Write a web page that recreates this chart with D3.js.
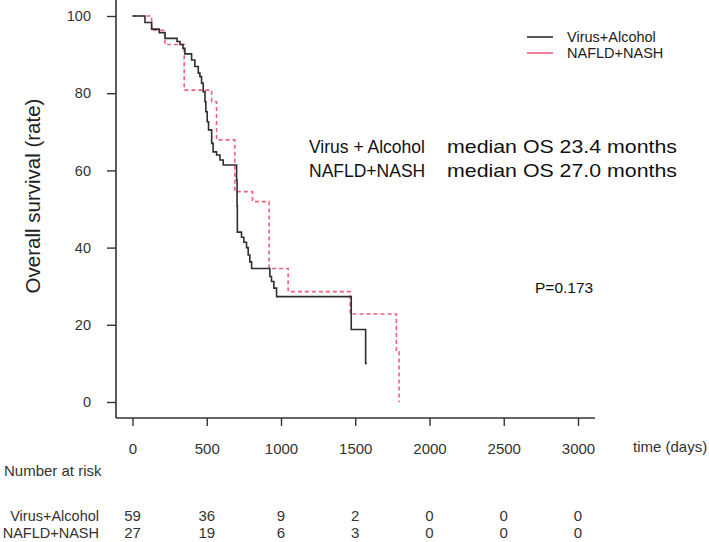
<!DOCTYPE html>
<html><head><meta charset="utf-8">
<script src="https://cdn.jsdelivr.net/npm/d3@7"></script>
<style>body{margin:0;background:#fff}svg{display:block;font-family:"Liberation Sans",Arial,sans-serif}</style>
</head><body><svg id="c" width="709" height="542"></svg>
<script>
// Kaplan-Meier step data (day, survival % after the event)
const vaDays = [0,84,129,180,219,300,320,340,353,398,420,443,454,465,476,488,494,503,512,533,543,566,589,611,701,704,706,734,750,768,779,790,802,925,936,952,970,1473,1570,1578];
const vaSurv = [100,98.3,96.6,95.7,94.2,93.4,92.6,91.6,90.2,88.6,86.9,85.2,84.3,82.6,80.4,77.8,75.2,72.6,70.5,67.0,64.8,64.0,62.7,61.4,57.5,50.8,44.0,42.7,41.4,40.0,38.1,36.3,34.6,32.5,31.2,29.5,27.3,18.8,10.0,10.0];
const nnDays = [0,129,218,348,533,566,689,808,920,1048,1466,1777,1795];
const nnSurv = [100,96.3,92.6,80.8,77.8,67.9,54.5,51.9,34.6,28.6,22.8,13.0,0];
const seriesNames = ["Virus+Alcohol","NAFLD+NASH"];
const xTicks = [0,500,1000,1500,2000,2500,3000];
const yTicks = [0,20,40,60,80,100];
const riskVA = [59,36,9,2,0,0,0];
const riskNN = [27,19,6,3,0,0,0];
const medianLines = [["Virus + Alcohol","median OS 23.4 months"],["NAFLD+NASH","median OS 27.0 months"]];
const pText = "P=0.173";

const svg = d3.select("#c");
const x = d3.scaleLinear().domain([0,3000]).range([132.5,578]);
const y = d3.scaleLinear().domain([0,100]).range([402,16]);
const axisCol = "#333";

// axes lines (L-shaped frame)
svg.append("line").attr("x1",116).attr("x2",116).attr("y1",0).attr("y2",418).attr("stroke",axisCol).attr("stroke-width",1.6);
svg.append("line").attr("x1",116).attr("x2",595).attr("y1",418).attr("y2",418).attr("stroke",axisCol).attr("stroke-width",1.6);

// y axis
const yAxis = svg.append("g").attr("transform","translate(116,0)")
  .call(d3.axisLeft(y).tickValues(yTicks).tickFormat(d3.format("d")).tickSize(9).tickPadding(16));
yAxis.select(".domain").remove();
yAxis.selectAll("line").attr("stroke",axisCol).attr("stroke-width",1.4);
yAxis.selectAll("text").attr("fill","#333").style("font-size","14.5px");

// x axis
const xAxis = svg.append("g").attr("transform","translate(0,418)")
  .call(d3.axisBottom(x).tickValues(xTicks).tickFormat(d3.format("d")).tickSize(8).tickPadding(17));
xAxis.select(".domain").remove();
xAxis.selectAll("line").attr("stroke",axisCol).attr("stroke-width",1.4);
xAxis.selectAll("text").attr("fill","#333").style("font-size","15px");

svg.append("text").attr("x",633).attr("y",452).attr("fill","#333").style("font-size","15px").text("time (days)");

// y title
svg.append("text").attr("transform","translate(40,196) rotate(-90)").attr("text-anchor","middle")
  .attr("fill","#222").style("font-size","20.5px").text("Overall survival (rate)");

// curves
const line = d3.line().x(d=>x(d[0])).y(d=>y(d[1])).curve(d3.curveStepAfter);
const nnPts = nnDays.map((d,i)=>[d,nnSurv[i]]);
const vaPts = vaDays.map((d,i)=>[d,vaSurv[i]]);
svg.append("path").attr("d",line(nnPts)).attr("fill","none").attr("stroke","#f0607c").attr("stroke-width",1.6).attr("stroke-dasharray","4,3");
svg.append("path").attr("d",line(vaPts)).attr("fill","none").attr("stroke","#2e2e2e").attr("stroke-width",1.6);

// legend
const legCols = ["#2e2e2e","#f0607c"];
seriesNames.forEach((n,i)=>{
  const ly = 37 + i*16;
  svg.append("line").attr("x1",527).attr("x2",553).attr("y1",ly).attr("y2",ly).attr("stroke",legCols[i]).attr("stroke-width",1.6);
  svg.append("text").attr("x",567).attr("y",ly+5).attr("fill","#222").style("font-size","14.5px").text(n);
});

// median annotation
medianLines.forEach((m,i)=>{
  const ty = 153 + i*24;
  svg.append("text").attr("x",309).attr("y",ty).attr("fill","#111").style("font-size","17.5px").text(m[0]);
  svg.append("text").attr("x",447).attr("y",ty).attr("fill","#111").style("font-size","18.5px")
    .attr("textLength",230).attr("lengthAdjust","spacingAndGlyphs").text(m[1]);
});
svg.append("text").attr("x",535).attr("y",293).attr("fill","#111").style("font-size","15.5px").text(pText);

// number at risk
svg.append("text").attr("x",4).attr("y",476).attr("fill","#333").style("font-size","15px").text("Number at risk");
[riskVA,riskNN].forEach((arr,i)=>{
  const ty = 521 + i*17;
  svg.append("text").attr("x",99).attr("y",ty).attr("text-anchor","end").attr("fill","#333").style("font-size","14.5px").text(seriesNames[i]);
  svg.selectAll(null).data(arr).enter().append("text")
    .attr("x",(d,j)=>x(xTicks[j])).attr("y",ty).attr("text-anchor","middle").attr("fill","#333").style("font-size","15px").text(d=>d);
});
</script></body></html>
